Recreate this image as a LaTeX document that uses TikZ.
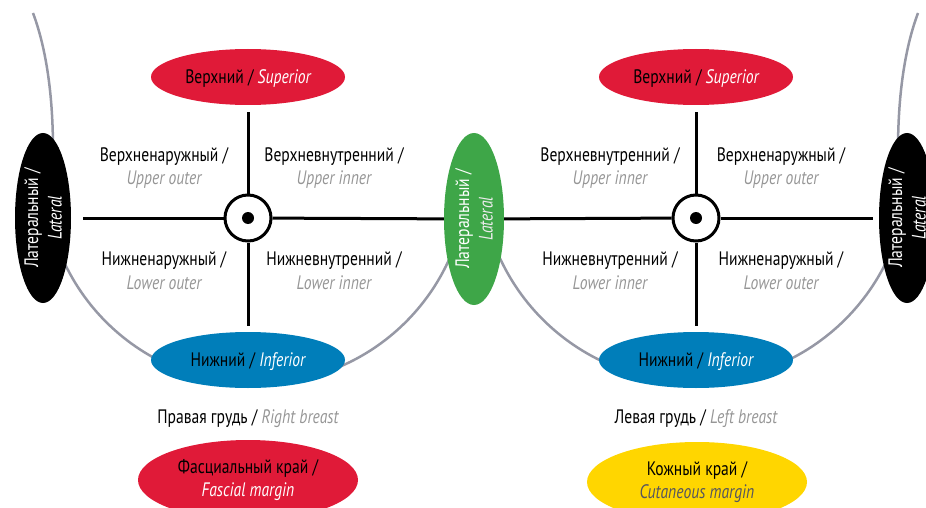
\documentclass[tikz,border=0pt]{standalone}
\usepackage{fontspec}
\setmainfont{PT Sans}[FakeStretch=0.8]
\usetikzlibrary{shapes.geometric}
\definecolor{rd}{RGB}{224,26,56}
\definecolor{bl}{RGB}{0,126,186}
\definecolor{gr}{RGB}{62,166,72}
\definecolor{yl}{RGB}{255,214,0}
\definecolor{arcgray}{RGB}{150,152,165}
\definecolor{txtgray}{RGB}{150,150,150}
\definecolor{dkgray}{RGB}{85,85,95}
\newcommand\engl[2][txtgray]{\textcolor{#1}{\itshape #2}}
\newcommand\droptext[1]{\raisebox{-2pt}[\height][\depth]{#1}}
\tikzset{
  lab/.style={font=\fontsize{19.5}{23.5}\selectfont, align=center, inner sep=0pt},
  pill/.style={ellipse, inner sep=0pt, minimum width=194pt, minimum height=56pt, lab},
  bigpill/.style={ellipse, inner sep=0pt, minimum width=220pt, minimum height=80pt, lab},
  latpill/.style={ellipse, inner sep=0pt, minimum width=56pt, minimum height=170pt},
  lattext/.style={lab, rotate=90, text=white},
  axis/.style={line width=3pt, black},
  ring/.style={circle, draw=black, line width=3pt, fill=white, minimum size=46pt, inner sep=0pt},
  dot/.style={circle, fill=black, minimum size=12pt, inner sep=0pt},
  outline/.style={draw=arcgray, line width=2.5pt},
}
\begin{document}
\begin{tikzpicture}[x=1pt,y=-1pt]
\useasboundingbox (0,0) rectangle (926,508);
\clip (0,0) rectangle (926,508);
% breast outlines
\draw[outline] (256,172) ++(160:212) arc[start angle=160, end angle=20, radius=212];
\draw[outline] (694,168) ++(158:214) arc[start angle=158, end angle=22, radius=214];
\draw[outline] (33,13) .. controls (45,45) and (53,90) .. (53,150);
\draw[outline] (918,13) .. controls (906,45) and (898,90) .. (898,150);

% lateral ellipses
\node[latpill, fill=black] (latL) at (43,218) {};
\node[lattext] (latLt) at (43,218) {Латеральный /\\\engl[white]{Lateral}};
\node[latpill, fill=gr, minimum width=60pt, minimum height=172pt] (latM) at (474,219) {};
\node[lattext] (latMt) at (474,219) {Латеральный /\\\engl[white!92!black]{Lateral}};
\node[latpill, fill=black] (latR) at (907,218) {};
\node[lattext] (latRt) at (907,218) {Латеральный /\\\engl[white]{Lateral}};

% superior / inferior
\node[pill, fill=rd] (supL) at (248,77) {\droptext{Верхний / \engl[white]{Superior}}};
\node[pill, fill=rd] (supR) at (696,77) {\droptext{Верхний / \engl[white]{Superior}}};
\node[pill, fill=bl] (infL) at (248,360) {\droptext{Нижний / \engl[white]{Inferior}}};
\node[pill, fill=bl] (infR) at (696,360) {\droptext{Нижний / \engl[white]{Inferior}}};

% centres
\node[ring] (cL) at (248,218) {};
\node[dot] (dL) at (248,218) {};
\node[ring] (cR) at (696,218) {};
\node[dot] (dR) at (696,218) {};

% axes
\draw[axis, shorten <=7pt] (supL) -- (cL);
\draw[axis, shorten >=6pt] (cL) -- (infL);
\draw[axis, shorten <=12pt] (latL) -- (cL);
\draw[axis] (cL) -- (latM);
\draw[axis, shorten <=7pt] (supR) -- (cR);
\draw[axis, shorten >=6pt] (cR) -- (infR);
\draw[axis] (latM) -- (cR);
\draw[axis, shorten >=6pt] (cR) -- (latR);

% quadrant labels, right breast (left in picture)
\node[lab] (uoL) at (164,168) {Верхненаружный /\\\engl{Upper outer}};
\node[lab] (uiL) at (334,168) {Верхневнутренний /\\\engl{Upper inner}};
\node[lab] (loL) at (164,270.5) {Нижненаружный /\\\engl{Lower outer}};
\node[lab] (liL) at (334,270.5) {Нижневнутренний /\\\engl{Lower inner}};
% left breast
\node[lab] (uiR) at (610,168) {Верхневнутренний /\\\engl{Upper inner}};
\node[lab] (uoR) at (781,168) {Верхненаружный /\\\engl{Upper outer}};
\node[lab] (liR) at (610,270.5) {Нижневнутренний /\\\engl{Lower inner}};
\node[lab] (loR) at (781,270.5) {Нижненаружный /\\\engl{Lower outer}};

% captions
\node[lab] (capL) at (248,419) {Правая грудь / \engl{Right breast}};
\node[lab] (capR) at (696,419) {Левая грудь / \engl{Left breast}};

% margins
\node[bigpill, fill=rd] (fasc) at (248,480) {Фасциальный край /\\\engl[white]{Fascial margin}};
\node[bigpill, fill=yl] (cut) at (697,482) {Кожный край /\\\engl[dkgray]{Cutaneous margin}};
\end{tikzpicture}
\end{document}
